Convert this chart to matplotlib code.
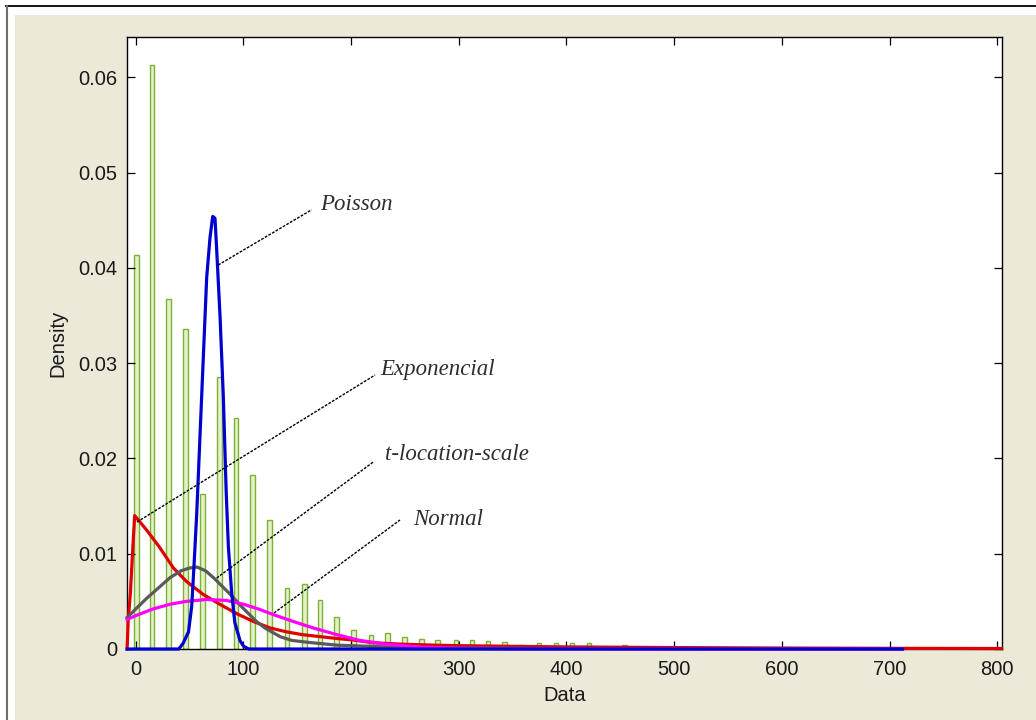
import matplotlib
matplotlib.use('Agg')
import matplotlib.pyplot as plt
from matplotlib.patches import Rectangle
from matplotlib.lines import Line2D

# ---------------- data ----------------
bin_centers = [0.5, 15.1, 30.7, 46.3, 61.9, 77.5, 93.1, 108.7, 124.3, 140.5,
               156.5, 171.1, 186.7, 202.3, 218.5, 234.0, 249.6, 265.4, 280.3, 297.4,
               312.3, 327.1, 342.7, 357.5, 374.5, 390.3, 405.1, 421.0, 437.0, 453.6]
bin_density = [0.0413, 0.0613, 0.0367, 0.0336, 0.0163, 0.0285, 0.0242, 0.0183, 0.0135, 0.0064,
               0.0068, 0.0051, 0.0034, 0.0020, 0.0015, 0.0017, 0.0013, 0.0011, 0.0009, 0.0009,
               0.0009, 0.0008, 0.0007, 0.0004, 0.0006, 0.0006, 0.0006, 0.0006, 0.0, 0.0004]

expo_x = [-8, -7, -5, -3, -1, 2, 10, 22, 35, 47, 63, 78, 94, 109, 125, 140, 155, 171,
          187, 202, 220, 248, 279, 301, 350, 400, 500, 600, 700, 804]
expo_y = [0.0, 0.0030, 0.0058, 0.0100, 0.0140, 0.0136, 0.0125, 0.0107, 0.0085, 0.0071,
          0.0057, 0.0047, 0.0037, 0.0029, 0.0022, 0.0018, 0.0015, 0.0013, 0.0011, 0.00094,
          0.00066, 0.0005, 0.0004, 0.00035, 0.00028, 0.00022, 0.00015, 0.0001, 0.00007, 0.00005]

tls_x = [-8, 0, 10, 21, 32, 42, 50, 57, 65, 73, 81, 89, 97, 104, 112, 120, 134, 145,
         160, 187, 233, 300, 400, 550, 712]
tls_y = [0.0033, 0.0042, 0.0053, 0.0064, 0.0075, 0.0082, 0.0085, 0.0086, 0.0082, 0.0074,
         0.0065, 0.0056, 0.0046, 0.0038, 0.0029, 0.0022, 0.0013, 0.0009, 0.0007, 0.0004,
         0.00022, 0.00012, 0.00006, 0.00003, 0.00001]

norm_x = [-8, 0, 16, 32, 47, 66, 84, 100, 114, 128, 146, 165, 187, 208, 233, 264, 300, 350, 712]
norm_y = [0.0031, 0.0035, 0.0042, 0.0047, 0.0050, 0.0052, 0.0051, 0.0047, 0.0042, 0.0036,
          0.0029, 0.0022, 0.0015, 0.0009, 0.0005, 0.0002, 0.00006, 0.00001, 0.0]

pois_x = [-8, 40, 44, 49, 52, 54, 56.6, 59.7, 62.8, 65.9, 69, 71.5, 73.6, 75, 78.3, 81.3,
          84, 86, 89, 92, 96.8, 100, 105, 712]
pois_y = [0.0, 0.0, 0.0006, 0.0018, 0.0045, 0.0085, 0.0141, 0.0224, 0.0307, 0.0390, 0.0432,
          0.0454, 0.0452, 0.0423, 0.0349, 0.0266, 0.0165, 0.0108, 0.0060, 0.0028, 0.0009,
          0.0003, 0.0, 0.0]

x_ticks = [0, 100, 200, 300, 400, 500, 600, 700, 800]
y_ticks = [0, 0.01, 0.02, 0.03, 0.04, 0.05, 0.06]
y_ticklabels = ['0', '0.01', '0.02', '0.03', '0.04', '0.05', '0.06']

# annotation labels: (text, line start, line end, text anchor)
labels = ['Poisson', 'Exponencial', 't-location-scale', 'Normal']
label_start = [(76.6, 0.0403), (1.2, 0.01333), (75.2, 0.00745), (128.4, 0.00378)]
label_end = [(163.4, 0.0461), (222.3, 0.02876), (220.6, 0.01963), (245.4, 0.01354)]
label_pos = [(171.1, 0.0466), (226.8, 0.0293), (231.5, 0.0204), (257.5, 0.01354)]

# ---------------- figure ----------------
W, H = 1036, 720
fig = plt.figure(figsize=(W / 100, H / 100), dpi=100, facecolor='white')
fig.patches.append(Rectangle((15 / W, 0), 1, 1 - 15 / H, transform=fig.transFigure,
                             facecolor='#ece9d8', edgecolor='none', zorder=-10))
fig.lines.append(Line2D([6 / W, 1], [1 - 6 / H, 1 - 6 / H], transform=fig.transFigure,
                        color='black', lw=1.3, zorder=-5))
fig.lines.append(Line2D([6.5 / W, 6.5 / W], [0, 1 - 6 / H], transform=fig.transFigure,
                        color='#6e6e6e', lw=1.5, zorder=-5))

ax = fig.add_axes([127 / W, 1 - 649 / H, (1002 - 127) / W, (649 - 37) / H])
ax.set_zorder(1)
ax.set_facecolor('white')

ax.bar(bin_centers, bin_density, width=4.4, facecolor='#e4f1c8', edgecolor='#7cb233',
       linewidth=1.0, zorder=1)

lw = 2.3
ax.plot(expo_x, expo_y, color='#e00000', lw=lw, zorder=3, clip_on=False)
ax.plot(tls_x, tls_y, color='#5a5a5a', lw=lw, zorder=3.1, clip_on=False)
ax.plot(norm_x, norm_y, color='#ff00ff', lw=lw, zorder=3.2, clip_on=False)
ax.plot(pois_x, pois_y, color='#0000d0', lw=lw, zorder=3.3, clip_on=False)

for txt, s, e, p in zip(labels, label_start, label_end, label_pos):
    ax.plot([s[0], e[0]], [s[1], e[1]], color='black', lw=1.0, linestyle=(0, (2, 1)), zorder=4)
    ax.text(p[0], p[1], txt, fontsize=16.5, fontstyle='italic', family='Liberation Serif',
            color='#2e2e2e', ha='left', va='center', zorder=5)

ax.set_xlim(-8.1, 804.4)
ax.set_ylim(0, 0.06423)
ax.set_xticks(x_ticks)
ax.set_xticklabels([str(v) for v in x_ticks])
ax.set_yticks(y_ticks)
ax.set_yticklabels(y_ticklabels)
ax.tick_params(direction='in', length=6, width=0.9, top=True, right=True,
               labelsize=14.5, colors='black', labelcolor='#1a1a1a')
ax.tick_params(axis='y', pad=7)
ax.tick_params(axis='x', pad=8)
for lab in ax.get_xticklabels() + ax.get_yticklabels():
    lab.set_family('Liberation Sans')
for sp in ax.spines.values():
    sp.set_linewidth(1.0)
    sp.set_color('black')

ax.set_xlabel('Data', fontsize=14.5, family='Liberation Sans', color='#1a1a1a', labelpad=5)
ax.set_ylabel('Density', fontsize=14.5, family='Liberation Sans', color='#1a1a1a', labelpad=8)

fig.savefig('out.png', dpi=100, facecolor=fig.get_facecolor())
